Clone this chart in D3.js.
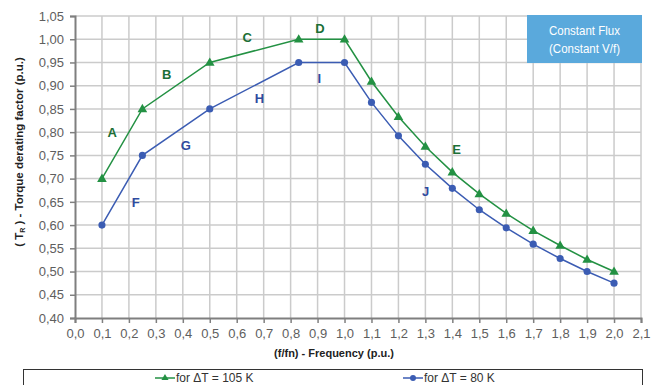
<!DOCTYPE html>
<html lang="en">
<head>
    <meta charset="UTF-8" />
    <title>Torque derating factor</title>
    <script src="https://d3js.org/d3.v7.min.js"></script>
    <style>
        body { margin: 0; background: #fff; }
        text { font-family: "Liberation Sans", Arial, sans-serif; }
    </style>
</head>
<body>
    <script>
        // Data
        var freq = [0.1, 0.25, 0.5, 0.83, 1.0, 1.1, 1.2, 1.3, 1.4, 1.5, 1.6, 1.7, 1.8, 1.9, 2.0];
        var torque105 = [0.70, 0.85, 0.95, 1.00, 1.00, 0.909, 0.833, 0.769, 0.714, 0.667, 0.625, 0.588, 0.556, 0.526, 0.500];
        var torque80 = [0.60, 0.75, 0.85, 0.95, 0.95, 0.864, 0.792, 0.731, 0.679, 0.633, 0.594, 0.559, 0.528, 0.500, 0.475];
        var seriesNames = ["for \u0394T = 105 K", "for \u0394T = 80 K"];

        var labelText = ["A", "B", "C", "D", "E", "F", "G", "H", "I", "J"];
        var labelX = [0.138, 0.340, 0.639, 0.909, 1.416, 0.225, 0.411, 0.684, 0.906, 1.301];
        var labelY = [0.800, 0.925, 1.005, 1.023, 0.763, 0.649, 0.771, 0.872, 0.915, 0.672];
        var labelSeries = [0, 0, 0, 0, 0, 1, 1, 1, 1, 1];

        var xTicks = d3.range(0, 22).map(function(i) { return i / 10; });
        var yTicks = d3.range(8, 22).map(function(i) { return i * 0.05; });

        var w = 655, h = 385;
        var plotLeft = 75, plotRight = 641, plotTop = 16, plotBottom = 318;

        var lineColors = ["#239143", "#3b5cb3"];
        var labelColors = ["#1b6f36", "#2f4b9f"];

        var svg = d3.select("body").append("svg")
            .attr("width", w)
            .attr("height", h);

        var x = d3.scaleLinear().domain([0, 2.1]).range([plotLeft, plotRight]);
        var y = d3.scaleLinear().domain([0.40, 1.05]).range([plotBottom, plotTop]);

        var fmt = function(d, digits) { return d.toFixed(digits).replace(".", ","); };

        // grid
        svg.append("g").selectAll("line")
            .data(xTicks.slice(1))
            .enter().append("line")
            .attr("x1", function(d) { return x(d); })
            .attr("x2", function(d) { return x(d); })
            .attr("y1", plotTop).attr("y2", plotBottom)
            .attr("stroke", "#cbcbcb").attr("stroke-width", 1.5);

        svg.append("g").selectAll("line")
            .data(yTicks.slice(1))
            .enter().append("line")
            .attr("x1", plotLeft).attr("x2", plotRight)
            .attr("y1", function(d) { return y(d); })
            .attr("y2", function(d) { return y(d); })
            .attr("stroke", "#cbcbcb").attr("stroke-width", 1.5);

        // axes
        var xAxis = svg.append("g")
            .attr("transform", "translate(0," + plotBottom + ")")
            .call(d3.axisBottom(x).tickValues(xTicks).tickSize(5).tickPadding(6)
                .tickFormat(function(d) { return fmt(d, 1); }));
        var yAxis = svg.append("g")
            .attr("transform", "translate(" + plotLeft + ",0)")
            .call(d3.axisLeft(y).tickValues(yTicks).tickSize(5).tickPadding(6)
                .tickFormat(function(d) { return fmt(d, 2); }));

        [xAxis, yAxis].forEach(function(a) {
            a.select(".domain").attr("stroke", "#7f7f7f").attr("stroke-width", 2);
            a.selectAll(".tick line").attr("stroke", "#7f7f7f").attr("stroke-width", 1.5);
            a.selectAll(".tick text")
                .attr("fill", "#5e5e5e")
                .style("font-size", "13px")
                .style("font-family", "'Liberation Sans', Arial, sans-serif");
        });

        // axis titles
        svg.append("text")
            .attr("x", 334).attr("y", 357)
            .attr("text-anchor", "middle")
            .attr("font-weight", "bold")
            .attr("font-size", "11px")
            .attr("fill", "#222")
            .text("(f/fn) - Frequency (p.u.)");

        var yt = svg.append("text")
            .attr("transform", "translate(23,152) rotate(-90)")
            .attr("text-anchor", "middle")
            .attr("font-weight", "bold")
            .attr("font-size", "11.5px")
            .attr("fill", "#222");
        yt.append("tspan").text("( T");
        yt.append("tspan").attr("font-size", "7px").attr("dy", 2).text("R");
        yt.append("tspan").attr("dy", -2).text(" ) - Torque derating factor (p.u.)");

        // series
        var series = [torque105, torque80];
        var line = d3.line()
            .x(function(d, i) { return x(freq[i]); })
            .y(function(d) { return y(d); });

        series.forEach(function(vals, s) {
            svg.append("path")
                .datum(vals)
                .attr("d", line)
                .attr("fill", "none")
                .attr("stroke", lineColors[s])
                .attr("stroke-width", 1.5);

            var sym = d3.symbol().type(s === 0 ? d3.symbolTriangle : d3.symbolCircle)
                .size(s === 0 ? 40 : 40);
            svg.append("g").selectAll("path")
                .data(vals)
                .enter().append("path")
                .attr("d", sym)
                .attr("transform", function(d, i) {
                    return "translate(" + x(freq[i]) + "," + (y(d) + (s === 0 ? 0.5 : 0)) + ")";
                })
                .attr("fill", lineColors[s]);
        });

        // segment labels
        svg.append("g").selectAll("text")
            .data(labelText)
            .enter().append("text")
            .attr("x", function(d, i) { return x(labelX[i]); })
            .attr("y", function(d, i) { return y(labelY[i]); })
            .attr("dy", "0.36em")
            .attr("text-anchor", "middle")
            .attr("font-weight", "bold")
            .attr("font-size", "13px")
            .attr("fill", function(d, i) { return labelColors[labelSeries[i]]; })
            .text(function(d) { return d; });

        // blue info box
        svg.append("rect")
            .attr("x", 527).attr("y", 15)
            .attr("width", 115).attr("height", 48)
            .attr("fill", "#5aa9dc");
        var boxLines = ["Constant Flux", "(Constant V/f)"];
        svg.append("g").selectAll("text")
            .data(boxLines)
            .enter().append("text")
            .attr("x", 584.5)
            .attr("y", function(d, i) { return 35 + i * 18; })
            .attr("text-anchor", "middle")
            .attr("font-size", "13px")
            .attr("fill", "#fff")
            .attr("textLength", 71)
            .attr("lengthAdjust", "spacingAndGlyphs")
            .text(function(d) { return d; });

        // legend
        svg.append("rect")
            .attr("x", 23.5).attr("y", 369.5)
            .attr("width", 619).attr("height", 30)
            .attr("fill", "#fff")
            .attr("stroke", "#333").attr("stroke-width", 1);

        var legX = [155, 403];
        seriesNames.forEach(function(name, s) {
            var g = svg.append("g").attr("transform", "translate(" + legX[s] + ",378)");
            g.append("line")
                .attr("x1", 0).attr("x2", 20)
                .attr("stroke", lineColors[s]).attr("stroke-width", 1.5);
            g.append("path")
                .attr("d", d3.symbol().type(s === 0 ? d3.symbolTriangle : d3.symbolCircle).size(s === 0 ? 22 : 28))
                .attr("transform", "translate(10,0)")
                .attr("fill", lineColors[s]);
            g.append("text")
                .attr("x", 21).attr("dy", "0.36em")
                .attr("font-size", "12px")
                .attr("fill", "#333")
                .text(name);
        });
    </script>
</body>
</html>
